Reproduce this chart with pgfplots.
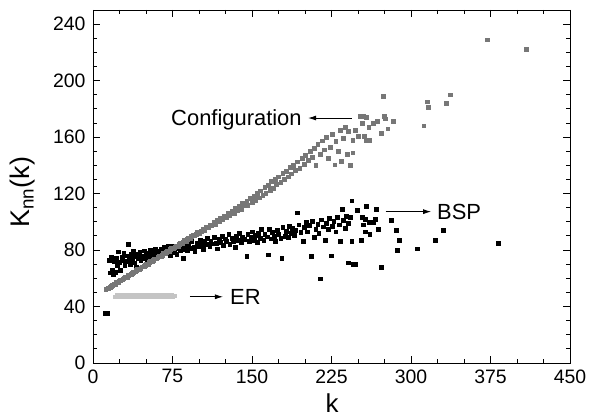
\documentclass[border=0pt]{standalone}
\usepackage{fontspec}
\setmainfont{Liberation Sans}
\usepackage{pgfplots}
\pgfplotsset{compat=1.18}
\usetikzlibrary{arrows.meta}
\definecolor{cfg}{HTML}{777777}
\definecolor{er}{HTML}{C4C4C4}
\begin{document}
\begin{tikzpicture}
\begin{axis}[
  scale only axis, width=477bp, height=353bp,
  xmin=0, xmax=450, ymin=0, ymax=250,
  xtick={0,75,...,450}, minor x tick num=2,
  ytick={0,40,...,240}, minor y tick num=3,
  major tick length=7bp, minor tick length=4bp,
  tick align=inside,
  axis line style={line width=0.9bp},
  every tick/.style={line width=0.9bp, black},
  /pgf/number format/assume math mode=true,
  xticklabel style={font=\fontsize{19.5}{22}\selectfont, yshift=-3bp},
  yticklabel style={font=\fontsize{19.5}{22}\selectfont, xshift=-4bp},
  xlabel={k}, ylabel={K\textsubscript{nn}(k)},
  xlabel style={font=\fontsize{26}{30}\selectfont, at={(axis description cs:0.501,-0.114)}, anchor=center},
  ylabel style={font=\fontsize{27}{30}\selectfont, at={(axis description cs:-0.1468,0.484)}, anchor=center},
  clip=false,
]
% BSP (black)
\addplot[only marks, mark=square*, mark size=1.9bp, color=black] coordinates {
(11.5,35.5)(13.5,35.5)
(15,73.0)(16,64.0)(17,75.0)(18,66.0)(19,62.5)(20,72.0)(21,64.5)(22,74.5)(23,69.0)(24,78.8)
(25,71.5)(26,66.0)(27,75.0)(28,73.0)(29,77.5)(30,69.5)(31,76.0)(32,72.0)(33,84.0)(34,74.5)
(35,70.0)(36,77.0)(37,73.5)(38,79.0)(39,71.0)(40,75.5)(41,68.0)(42,77.0)(43,74.0)(44,78.5)
(45,72.5)(46,76.0)(47,74.0)(48,79.5)(49,75.0)(50,77.5)(51,73.0)(52,78.0)(53,75.5)(54,80.0)
(55,76.5)(56,74.5)(57,78.5)(58,76.0)(59,80.5)(60,77.0)(61,75.0)(62,79.5)(63,77.5)(64,81.0)
(65,76.0)(66,79.0)(67,82.0)(68,77.5)(69,80.0)(70,78.0)(71,82.5)(72,79.0)(73,76.5)(74,80.5)
(75,78.5)(76,83.0)(77,79.5)(78,81.5)(79,77.0)(80,82.0)(82,79.5)(83,84.0)(85,80.5)(85,74.5)
(87,82.5)(89,80.0)(90,84.5)(92,81.5)(93,86.0)(95,82.0)(96,79.0)(98,85.0)(99,82.5)
(101,87.0)(102,83.5)(104,80.5)(105,86.0)(107,84.0)(108,88.5)(110,82.5)(111,86.5)(113,84.5)
(114,89.0)(116,85.0)(117,81.0)(119,87.5)(120,85.5)(122,90.0)(123,83.5)(125,88.0)(126,86.0)
(128,91.0)(129,84.0)(131,88.5)(132,86.5)(134,82.0)(135,90.0)(137,87.0)(138,92.0)(140,85.5)
(141,89.0)(143,87.5)(145,75.5)(146,91.5)(147,86.0)(149,89.5)(150,93.0)(152,87.0)(153,90.5)
(155,85.5)(156,92.0)(158,88.5)(159,94.5)(161,87.0)(162,91.0)(164,89.5)(165,76.7)(166,95.0)
(168,88.0)(169,92.5)(171,90.0)(172,86.5)(174,94.0)(175,91.5)(177,88.5)(178,74.0)(179,96.0)
(181,90.0)(182,93.5)(184,89.0)(185,97.0)(187,92.0)(188,95.5)(190,90.5)(191,94.0)(193,106.5)
(194,98.0)(196,92.5)(198,86.0)(199,96.0)(201,99.5)(202,93.0)(204,97.5)(206,75.5)(207,100.5)
(209,89.0)(210,95.0)(212,98.5)(213,92.0)(214,59.7)(215,101.5)(217,96.5)(219,87.0)(220,99.0)
(222,94.5)(223,102.5)(225,76.0)(226,97.0)(227,100.5)(229,93.0)(230,103.5)(232,98.0)(233,86.0)
(235,109.0)(236,101.0)(238,95.5)(239,104.0)(240.6,71.0)(241,99.0)(243,103.0)(244,115.0)
(244,86.5)(245,70.0)(247,70.0)(249,108.0)(253,87.0)(254,103.0)(255,98.0)(257,101.6)(257,93.0)
(258,111.0)(260,100.0)(261,91.0)(264,100.0)(266,102.0)(267,109.0)(269,95.0)(272,68.0)
(281,101.0)(286,94.0)(287,80.0)(289,87.0)(306,81.0)(323,87.0)(330,94.0)(382,85.0)
};
% Configuration (gray)
\addplot[only marks, mark=square*, mark size=1.9bp, color=cfg] coordinates {
(12,52.0)(14,53.2)(16,53.8)(18,55.1)(20,55.6)(22,57.0)(24,57.4)(26,58.9)(28,59.2)(30,60.8)
(32,61.0)(34,62.6)(36,63.0)(38,64.5)(40,64.7)(42,66.3)(44,66.5)(46,68.2)(48,68.4)(50,70.0)
(52,70.2)(54,71.9)(56,72.0)(58,73.8)(60,73.9)(62,75.6)(64,75.7)(66,77.5)(68,77.4)(70,79.3)
(72,79.2)(74,81.2)(76,81.0)(78,83.0)(80,82.9)(82,85.0)(84,84.7)(86,86.9)(88,86.5)(90,88.8)
(92,88.3)(94,90.6)(96,90.1)(98,92.5)(100,92.0)
(13,52.6)(17,54.6)(21,56.0)(25,58.3)(29,60.2)(33,62.0)(37,63.8)(41,65.8)(45,67.1)(49,69.3)
(53,71.2)(57,73.0)(61,74.9)(65,76.3)(69,78.6)(73,80.4)(77,82.0)(81,84.1)(85,85.9)(89,87.6)
(93,89.7)(97,91.4)
(102,93.5)(104,94.8)(105,94.0)(107,96.5)(109,96.0)(110,98.0)(112,97.5)(114,99.8)(115,98.2)
(117,101.0)(119,100.2)(120,102.8)(122,101.5)(124,104.0)(126,103.2)(127,106.0)(129,104.5)
(131,107.5)(133,105.8)(134,109.5)(136,108.0)(138,111.0)(140,109.2)(141,113.0)(143,111.5)
(145,114.8)(146,112.0)(148,116.5)(150,114.0)(152,118.2)(153,115.5)(155,120.0)(157,117.0)
(158,122.0)(160,119.0)(162,124.5)(163,120.5)(165,126.0)(167,122.5)(168,128.5)(170,124.0)
(172,130.0)(173,126.5)(175,132.0)(177,128.0)(179,134.5)(180,130.0)(182,136.0)(184,132.0)
(186,138.5)(187,134.0)(189,140.0)(191,136.5)(193,142.5)(195,138.0)(197,145.0)(199,141.0)
(200,147.0)
(203,143.5)(205,150.0)(207,146.0)(209,152.0)(210,140.0)(212,155.0)(214,148.0)(216,157.5)
(218,151.0)(220,160.0)(222,145.0)(224,153.0)(226,162.0)(228,140.5)(229,157.0)(231,150.0)
(233,165.0)(234,143.0)(236,159.0)(238,167.0)(240,148.0)(241,164.0)(243,140.0)(245,158.0)
(245,149.0)(247,165.0)(250,160.5)(252,175.0)(254,170.0)(255,174.6)(256,160.5)(258,174.0)
(258,158.0)(260,167.0)(261,158.0)(264,170.0)(268,171.0)(272,163.0)(274,189.0)(275,175.0)
(276,173.0)(278,166.0)(283,171.0)(312,168.0)(315,185.0)(316,181.0)(333,184.0)(337,190.0)
(372,229.0)(409,222.0)
};
% ER (light gray)
\addplot[only marks, mark=square*, mark size=1.9bp, color=er] coordinates {
(21,47.0)(22.5,48.0)(24,47.3)(25.5,47.9)(27,47.2)(28.5,48.1)(30,47.5)(31.5,47.8)(33,47.1)
(34.5,48.0)(36,47.4)(37.5,47.9)(39,47.3)(40.5,48.2)(42,47.5)(43.5,47.8)(45,47.2)(46.5,48.0)
(48,47.4)(49.5,47.9)(51,47.3)(52.5,48.1)(54,47.5)(55.5,47.8)(57,47.2)(58.5,48.0)(60,47.4)
(61.5,47.9)(63,47.3)(64.5,48.1)(66,47.5)(67.5,47.8)(69,47.2)(70.5,48.0)(72,47.4)(73.5,47.9)
(75,47.3)(76.5,47.7)
};
% annotations
\draw[line width=0.8bp, -{Latex[length=8bp,width=5bp]}] (axis cs:244,173.5) -- (axis cs:203,173.5);
\node[anchor=base east, inner sep=0pt, font=\fontsize{22}{26}\selectfont] at (axis cs:197,168.3) {Configuration};
\draw[line width=0.8bp, -{Latex[length=8bp,width=5bp]}] (axis cs:276,107.2) -- (axis cs:319,107.2);
\node[anchor=base west, inner sep=0pt, font=\fontsize{22}{26}\selectfont] at (axis cs:324.5,101.6) {BSP};
\draw[line width=0.8bp, -{Latex[length=8bp,width=5bp]}] (axis cs:91.5,46.9) -- (axis cs:122.6,46.9);
\node[anchor=base west, inner sep=0pt, font=\fontsize{22}{26}\selectfont] at (axis cs:129.2,41.2) {ER};
\end{axis}
\pgfresetboundingbox
\path[use as bounding box] ([shift={(-93bp,-54bp)}]current axis.south west) rectangle ([shift={(20bp,10bp)}]current axis.north east);
\end{tikzpicture}
\end{document}
